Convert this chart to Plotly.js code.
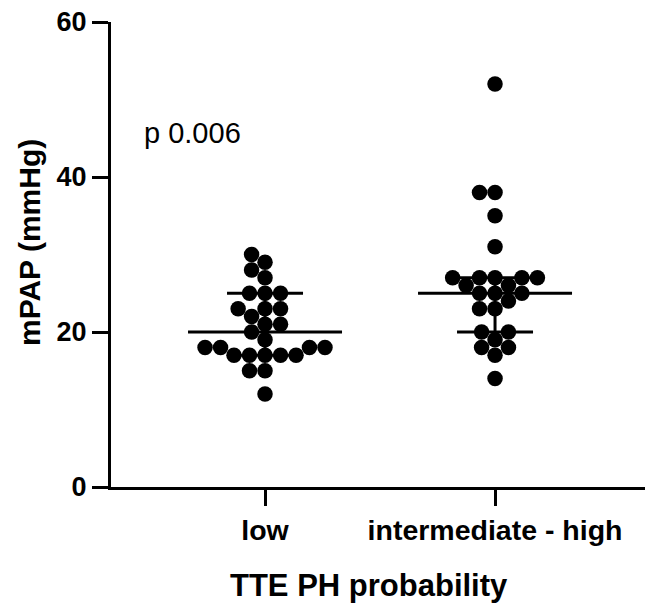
<!DOCTYPE html>
<html>
<head>
<meta charset="utf-8">
<script src="https://cdn.plot.ly/plotly-3.0.1.min.js"></script>
<style>html,body{margin:0;padding:0;background:#fff;}#chart{width:645px;height:610px;}</style>
</head>
<body>
<div id="chart"></div>
<script>
// ---- data ----
var categories = ["low", "intermediate - high"];
var lowValues = [30, 29, 28, 27, 25, 25, 25, 23, 23, 23, 22, 21, 21, 20, 19, 18, 18, 18, 18, 17, 17, 17, 17, 17, 15, 15, 12];
var highValues = [52, 38, 38, 35, 31, 27, 27, 27, 27, 27, 26, 26, 25, 25, 25, 24, 23, 23, 20, 20, 19, 18, 18, 17, 14];
var yTicks = [0, 20, 40, 60];
var pLabel = "p 0.006";
var xTitle = "TTE PH probability";
var yTitle = "mPAP (mmHg)";

// ---- layout geometry ----
var W = 645, H = 610;
var mL = 111, mR = 0, mT = 22, mB = 123;
var plotW = W - mL - mR, plotH = H - mT - mB;
var yRange = [0, 60];
var xMin = 0.3304, xMax = 2.652;
var pxPerX = plotW / (xMax - xMin);
var pxPerY = plotH / (yRange[1] - yRange[0]);
var dotD = 15.5;

function quantile(sorted, q) {
  var n = sorted.length;
  var pos = q * (n + 1);
  var lo = Math.floor(pos), hi = Math.ceil(pos);
  if (lo < 1) return sorted[0];
  if (hi > n) return sorted[n - 1];
  return sorted[lo - 1] + (pos - lo) * (sorted[hi - 1] - sorted[lo - 1]);
}

// beeswarm offsets in pixel space, converted to data units
function swarm(values) {
  var idx = values.map(function (v, i) { return i; });
  idx.sort(function (a, b) { return values[a] - values[b]; });
  var placed = [];
  var out = new Array(values.length);
  idx.forEach(function (i) {
    var y = values[i] * pxPerY;
    var cands = [0];
    placed.forEach(function (p) {
      var dy = Math.abs(p.y - y);
      if (dy < dotD) {
        var dx = Math.sqrt(dotD * dotD - dy * dy);
        cands.push(p.x + dx + 0.01, p.x - dx - 0.01);
      }
    });
    cands.sort(function (a, b) { return Math.abs(a) - Math.abs(b) || a - b; });
    var chosen = 0;
    for (var c = 0; c < cands.length; c++) {
      var ok = placed.every(function (p) {
        var dx = p.x - cands[c], dy = p.y - y;
        return dx * dx + dy * dy >= dotD * dotD - 0.05;
      });
      if (ok) { chosen = cands[c]; break; }
    }
    placed.push({ x: chosen, y: y });
    out[i] = chosen / pxPerX;
  });
  return out;
}

var groups = [lowValues, highValues];
var traces = [];
var medHalf = 77 / pxPerX, capHalf = 38 / pxPerX;

groups.forEach(function (vals, g) {
  var center = g + 1;
  var offs = swarm(vals);
  traces.push({
    type: "scatter", mode: "markers",
    x: offs.map(function (o) { return center + o; }),
    y: vals,
    marker: { color: "#000", size: dotD, line: { width: 0 } },
    cliponaxis: false, hoverinfo: "y", showlegend: false
  });
  var s = vals.slice().sort(function (a, b) { return a - b; });
  var med = quantile(s, 0.5), q1 = quantile(s, 0.25), q3 = quantile(s, 0.75);
  traces.push({
    type: "scatter", mode: "lines",
    x: [center - medHalf, center + medHalf, null, center, center, null,
        center - capHalf, center + capHalf, null, center - capHalf, center + capHalf],
    y: [med, med, null, q1, q3, null, q1, q1, null, q3, q3],
    line: { color: "#000", width: 3 },
    cliponaxis: false, hoverinfo: "skip", showlegend: false
  });
});

var fam = "Liberation Sans, Arial, Helvetica, sans-serif";
var layout = {
  width: W, height: H,
  margin: { l: mL, r: mR, t: mT, b: mB, pad: 0 },
  paper_bgcolor: "#fff", plot_bgcolor: "#fff",
  showlegend: false,
  xaxis: {
    range: [xMin, xMax],
    tickvals: [1, 2], ticktext: categories,
    showline: true, linecolor: "#000", linewidth: 3,
    ticks: "outside", ticklen: 16, tickwidth: 3, tickcolor: "#000",
    showgrid: false, zeroline: false, fixedrange: true,
    tickfont: { family: fam, size: 28.5, color: "#000", weight: "bold" }
  },
  yaxis: {
    range: yRange,
    tickvals: yTicks,
    showline: true, linecolor: "#000", linewidth: 3,
    ticks: "outside", ticklen: 16, tickwidth: 3, tickcolor: "#000",
    showgrid: false, zeroline: false, fixedrange: true,
    tickfont: { family: fam, size: 27, color: "#000", weight: "bold" }
  },
  annotations: [{
    text: pLabel, xref: "paper", yref: "paper",
    x: (142 - mL) / plotW, y: (487 - 133) / plotH,
    xanchor: "left", yanchor: "middle", showarrow: false,
    font: { family: fam, size: 29, color: "#000" }
  }, {
    text: xTitle, xref: "paper", yref: "paper",
    x: (369 - mL) / plotW, y: -(585 - 487) / plotH,
    xanchor: "center", yanchor: "middle", showarrow: false,
    font: { family: fam, size: 31, color: "#000", weight: "bold" }
  }, {
    text: yTitle, xref: "paper", yref: "paper", textangle: -90,
    x: -(mL - 30) / plotW, y: (487 - 243) / plotH,
    xanchor: "center", yanchor: "middle", showarrow: false,
    font: { family: fam, size: 30, color: "#000", weight: "bold" }
  }]
};

Plotly.newPlot("chart", traces, layout, { displayModeBar: false, staticPlot: true });
</script>
</body>
</html>
